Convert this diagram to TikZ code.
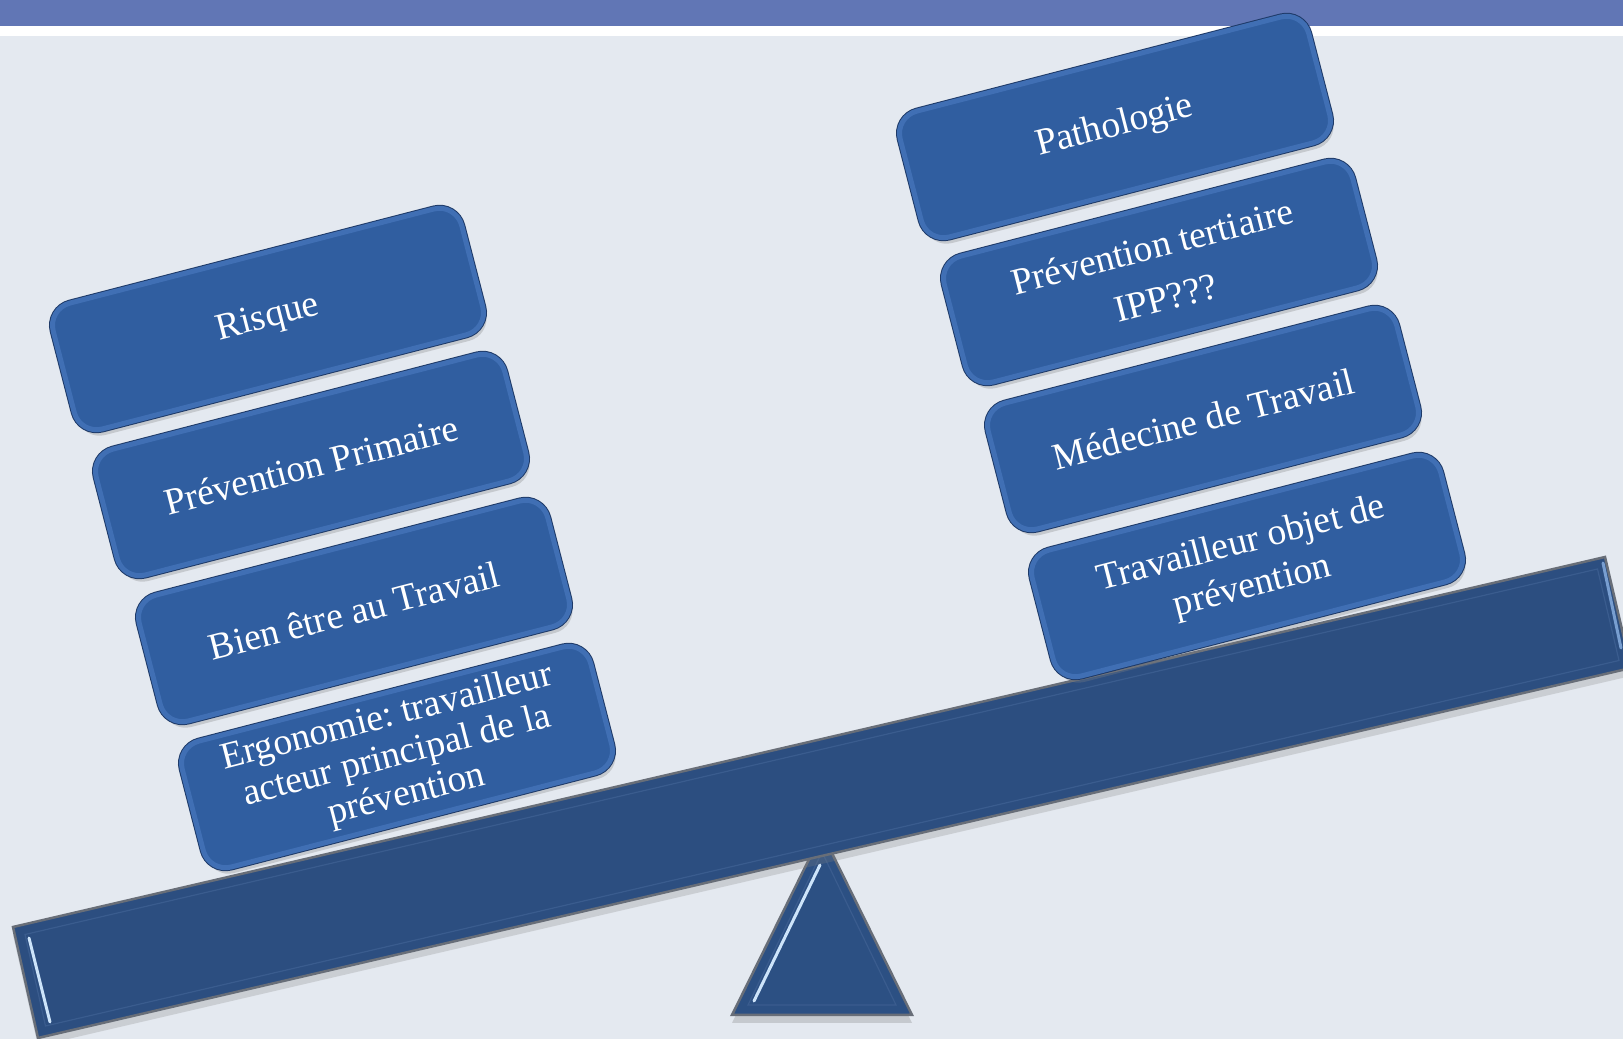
\documentclass[tikz,border=0pt]{standalone}
\usepackage{fontspec}
\setmainfont{Liberation Serif}
\usepackage{tikz}
\usetikzlibrary{shadows}
\frenchspacing

\definecolor{bandblue}{RGB}{97,118,181}
\definecolor{paper}{RGB}{228,233,240}
\definecolor{boxblue}{RGB}{48,94,160}
\definecolor{boxrim}{RGB}{64,111,180}
\definecolor{boxedge}{RGB}{30,58,104}
\definecolor{beamblue}{RGB}{44,78,128}
\definecolor{beamline}{RGB}{58,92,142}
\definecolor{beamedge}{RGB}{104,110,120}
\definecolor{shine}{RGB}{205,228,250}

\tikzset{
  block/.style={rectangle, rounded corners=2.3mm, minimum width=42.2mm, minimum height=13mm, inner sep=0pt,
    drop shadow={opacity=.3, shadow xshift=.3mm, shadow yshift=-.6mm},
    preaction={draw=boxedge, line width=.7mm},
    fill=boxblue, draw=boxrim, line width=.5mm,
    text=white, align=center, font=\fontsize{10.7pt}{12.5pt}\selectfont, rotate=14.5},
}

\begin{document}
\begin{tikzpicture}[x=.1mm, y=-.1mm]
\path[use as bounding box, clip] (0,0) rectangle (1623,1039);
\fill[paper] (0,0) rectangle (1623,1039);
\fill[bandblue] (0,0) rectangle (1623,26);
\fill[white] (0,26) rectangle (1623,36);

% fulcrum
\draw[drop shadow={opacity=.3, shadow xshift=0mm, shadow yshift=-.8mm}, fill=beamblue!90!boxblue, draw=beamedge, line width=.25mm]
  (822,833) -- (912,1015) -- (732,1015) -- cycle;
\draw[beamline, line width=.12mm] (822,852) -- (896,1005) -- (748,1005) -- cycle;
\draw[shine, line width=.3mm, line cap=round] (820,865) -- (754,1001);

% beam
\draw[drop shadow={opacity=.25, shadow xshift=0mm, shadow yshift=-.8mm}, fill=beamblue, draw=beamedge, line width=.25mm]
  (13,927) -- (1605,557) -- (1631,668) -- (38,1038) -- cycle;
\draw[beamline, line width=.12mm] (25,934.5) -- (1597.5,569) -- (1619,660.5) -- (45.5,1026) -- cycle;
\draw[shine, line width=.3mm, line cap=round] (29,938) -- (50,1022);
\draw[boxrim!60!shine, line width=.3mm, line cap=round] (1603,563) -- (1621,648);

% left pan
\node[block] (risque) at (268,319) {Risque};
\node[block] (primaire) at (311,465) {Prévention Primaire};
\node[block] (bienetre) at (354,611) {Bien être au Travail};
\node[block, font=\fontsize{10.7pt}{11.4pt}\selectfont] (ergonomie) at (397,757) {Ergonomie: travailleur\\acteur principal de la\\prévention};

% right pan
\node[block] (pathologie) at (1115,127) {Pathologie};
\node[block, font=\fontsize{10.7pt}{15pt}\selectfont] (tertiaire) at (1159,272) {Prévention tertiaire\\IPP???};
\node[block] (medecine) at (1203,419) {Médecine de Travail};
\node[block] (travailleur) at (1247,566) {Travailleur objet de\\prévention};
\end{tikzpicture}
\end{document}
